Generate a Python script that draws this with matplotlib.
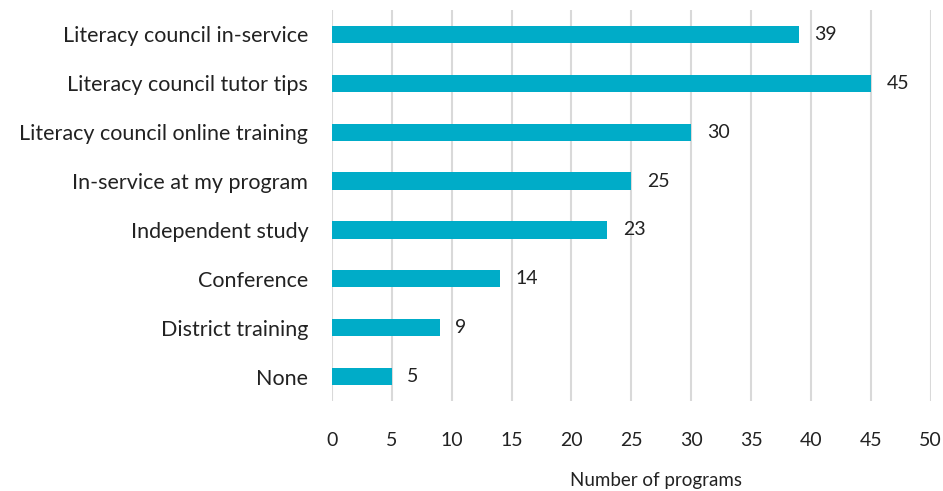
import matplotlib
matplotlib.use("Agg")
import matplotlib.pyplot as plt

plt.rcParams["font.family"] = ["Lato", "DejaVu Sans"]

categories = [
    "Literacy council in-service",
    "Literacy council tutor tips",
    "Literacy council online training",
    "In-service at my program",
    "Independent study",
    "Conference",
    "District training",
    "None",
]
counts = [39, 45, 30, 25, 23, 14, 9, 5]
xticks = [0, 5, 10, 15, 20, 25, 30, 35, 40, 45, 50]

BAR = "#00acc8"
GRID = "#d9d9d9"

fig = plt.figure(figsize=(9.43, 4.91), dpi=100)
ax = fig.add_axes([0.352, 0.183, 0.635, 0.797])

ypos = list(range(len(categories)))
ax.barh(ypos, counts, height=0.35, color=BAR, zorder=3)
for y, v in zip(ypos, counts):
    ax.text(v + 1.3, y, str(v), va="center", ha="left", fontsize=14, color="#222222")

ax.set_xlim(0, 50)
ax.set_ylim(len(categories) - 0.5, -0.5)
ax.set_xticks(xticks)
ax.set_yticks(ypos)
ax.set_yticklabels(categories, fontsize=15.5, color="#222222")
ax.tick_params(axis="x", labelsize=14, length=0, pad=22, labelcolor="#222222")
ax.tick_params(axis="y", length=0, pad=17)
ax.xaxis.grid(True, color=GRID, linewidth=1.5, zorder=0)
for s in ax.spines.values():
    s.set_visible(False)
ax.set_xlabel("Number of programs", fontsize=13.5, color="#222222")
ax.xaxis.set_label_coords(0.541, -0.182)

fig.savefig("out.png", dpi=100)
